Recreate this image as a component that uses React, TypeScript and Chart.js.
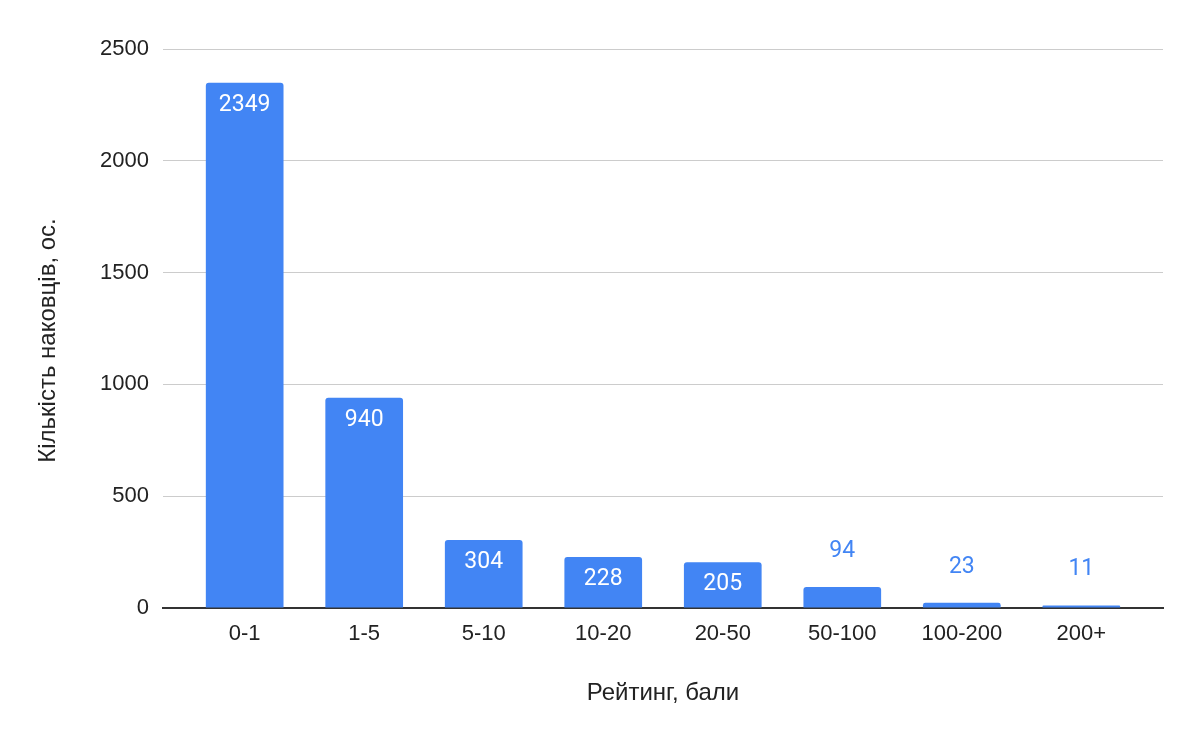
import { useEffect, useRef } from "react";
import { Chart, registerables } from "chart.js";

Chart.register(...registerables);

const categories = ["0-1", "1-5", "5-10", "10-20", "20-50", "50-100", "100-200", "200+"];
const counts = [2349, 940, 304, 228, 205, 94, 23, 11];
const yTicks = [0, 500, 1000, 1500, 2000, 2500];
const xTitle = "Рейтинг, бали";
const yTitle = "Кількість наковців, ос.";

const BAR_COLOR = "#4285F4";
const AXIS_FONT = "'Liberation Sans', Arial, sans-serif";

const valueLabels = {
  id: "valueLabels",
  afterDatasetsDraw(chart: any) {
    const ctx = chart.ctx;
    const meta = chart.getDatasetMeta(0);
    const base = chart.scales.y.getPixelForValue(0);
    ctx.save();
    ctx.font = "23px Roboto";
    ctx.textAlign = "center";
    ctx.textBaseline = "middle";
    meta.data.forEach((el: any, i: number) => {
      const h = base - el.y;
      const text = String(counts[i]);
      if (h > 35) {
        ctx.fillStyle = "#ffffff";
        ctx.fillText(text, el.x, el.y + 22);
      } else {
        ctx.fillStyle = BAR_COLOR;
        ctx.fillText(text, el.x, el.y - 36);
      }
    });
    ctx.restore();
  },
};

const yAxisTitle = {
  id: "yAxisTitle",
  afterDraw(chart: any) {
    const ctx = chart.ctx;
    const area = chart.chartArea;
    ctx.save();
    ctx.translate(48, (area.top + area.bottom) / 2 + 12);
    ctx.rotate(-Math.PI / 2);
    ctx.font = `24px ${AXIS_FONT}`;
    ctx.fillStyle = "#222";
    ctx.textAlign = "center";
    ctx.textBaseline = "middle";
    ctx.fillText(yTitle, 0, 0);
    ctx.restore();
  },
};

export default function App() {
  const ref = useRef<HTMLCanvasElement | null>(null);

  useEffect(() => {
    document.body.style.margin = "0";
    const canvas = ref.current;
    if (!canvas) return;
    const chart = new Chart(canvas, {
      type: "bar",
      data: {
        datasets: [
          {
            data: counts.map((v, i) => ({ x: i, y: v })),
            backgroundColor: BAR_COLOR,
            borderRadius: { topLeft: 3, topRight: 3, bottomLeft: 0, bottomRight: 0 },
            borderSkipped: "start",
            categoryPercentage: 1,
            barPercentage: 0.65,
          },
        ],
      },
      options: {
        animation: false,
        responsive: false,
        devicePixelRatio: 1,
        layout: { padding: { left: 0, right: 37, top: 49, bottom: 0 } },
        plugins: {
          legend: { display: false },
          tooltip: { enabled: false },
        },
        scales: {
          x: {
            type: "linear",
            offset: false,
            min: -0.5 - 22 / 120,
            max: 7.5 + 22 / 120,
            afterBuildTicks: (scale: any) => {
              scale.ticks = categories.map((_, i) => ({ value: i }));
            },
            afterFit: (scale: any) => {
              scale.height = 134;
            },
            ticks: {
              callback: (v: any) => categories[v as number] ?? "",
              font: { family: AXIS_FONT, size: 22 },
              color: "#222",
              padding: 13,
              maxRotation: 0,
              autoSkip: false,
            },
            grid: { display: false, drawTicks: false },
            border: { display: true, color: "#333", width: 2 },
            title: {
              display: true,
              text: xTitle,
              font: { family: AXIS_FONT, size: 24 },
              color: "#222",
              padding: { top: 0, bottom: 34 },
            },
          },
          y: {
            min: 0,
            max: 2500,
            afterBuildTicks: (scale: any) => {
              scale.ticks = yTicks.map((v) => ({ value: v }));
            },
            afterFit: (scale: any) => {
              scale.width = 163;
            },
            ticks: {
              callback: (v: any) => String(v),
              font: { family: AXIS_FONT, size: 22 },
              color: "#222",
              padding: 14,
            },
            grid: { color: "#cccccc", lineWidth: 1, drawTicks: false },
            border: { display: false },
            title: { display: false },
          },
        },
      },
      plugins: [valueLabels, yAxisTitle],
    });
    return () => chart.destroy();
  }, []);

  return (
    <div style={{ width: 1200, height: 742, background: "#fff" }}>
      <canvas ref={ref} width={1200} height={742} />
    </div>
  );
}
